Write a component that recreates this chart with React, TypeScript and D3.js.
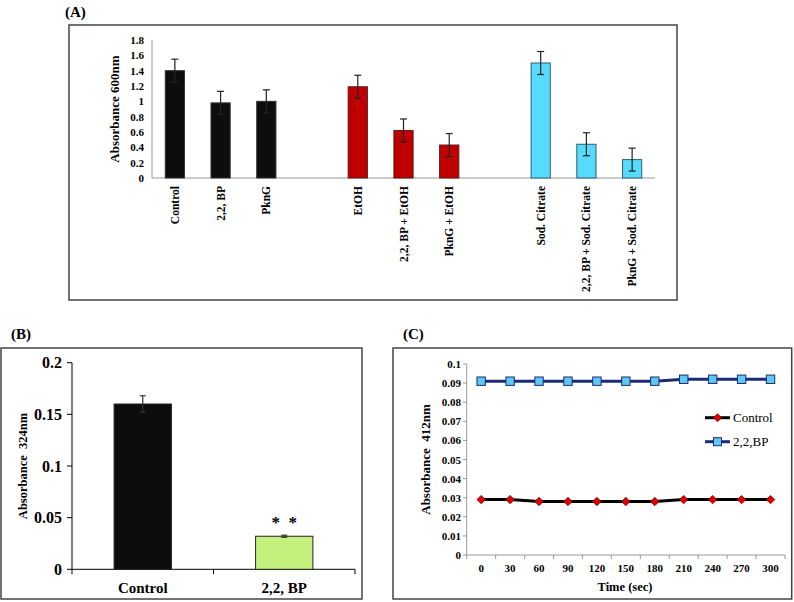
import React from "react";
import * as d3 from "d3";

// ---------- Panel A data ----------
const categoriesA = [
  "Control", "2,2, BP", "PknG",
  "EtOH", "2,2, BP + EtOH", "PknG + EtOH",
  "Sod. Citrate", "2,2, BP + Sod. Citrate", "PknG + Sod. Citrate",
];
const groupsA = [0, 0, 0, 1, 1, 1, 2, 2, 2];
const valuesA = [1.4, 0.98, 1.0, 1.19, 0.62, 0.43, 1.5, 0.44, 0.24];
const errorsA = [0.15, 0.15, 0.15, 0.15, 0.15, 0.15, 0.15, 0.15, 0.15];
const groupColorsA = ["#0d0d0d", "#c00000", "#57dbfd"];
const groupStrokesA = ["#333333", "#5a1a1a", "#2d5f73"];
const yTicksA = [0, 0.2, 0.4, 0.6, 0.8, 1, 1.2, 1.4, 1.6, 1.8];

// ---------- Panel B data ----------
const categoriesB = ["Control", "2,2, BP"];
const valuesB = [0.16, 0.032];
const errorsB = [0.008, 0.001];
const colorsB = ["#0d0d0d", "#c6f07e"];
const yTicksB = [0, 0.05, 0.1, 0.15, 0.2];

// ---------- Panel C data ----------
const timesC = [0, 30, 60, 90, 120, 150, 180, 210, 240, 270, 300];
const controlC = [0.029, 0.029, 0.028, 0.028, 0.028, 0.028, 0.028, 0.029, 0.029, 0.029, 0.029];
const bpC = [0.091, 0.091, 0.091, 0.091, 0.091, 0.091, 0.091, 0.092, 0.092, 0.092, 0.092];
const yTicksC = [0, 0.01, 0.02, 0.03, 0.04, 0.05, 0.06, 0.07, 0.08, 0.09, 0.1];
const seriesNamesC = ["Control", "2,2,BP"];

const FONT = "'Liberation Serif', 'Times New Roman', serif";

function PanelA() {
  // slot keys including two blank gaps between groups
  const slots: string[] = [];
  categoriesA.forEach((c, i) => {
    if (i > 0 && groupsA[i] !== groupsA[i - 1]) slots.push("gap" + i);
    slots.push(c);
  });
  const x = d3.scaleBand<string>().domain(slots).range([152, 655]).padding(0);
  const y = d3.scaleLinear().domain([0, 1.8]).range([178, 40]);
  const bw = x.bandwidth() * 0.42;
  return (
    <g>
      <text x={65} y={17} fontFamily={FONT} fontWeight="bold" fontSize={15}>(A)</text>
      <rect x={69} y={25} width={608} height={275} fill="white" stroke="#444" strokeWidth={1.5} />
      <line x1={152} x2={152} y1={y(1.8)} y2={y(0)} stroke="#999" strokeWidth={1} />
      <line x1={152} x2={655} y1={y(0)} y2={y(0)} stroke="#999" strokeWidth={1} />
      {yTicksA.map((t) => (
        <text key={t} x={144} y={y(t) + 4} textAnchor="end" fontFamily={FONT} fontWeight="bold" fontSize={11}>
          {d3.format("~g")(t)}
        </text>
      ))}
      <text transform={`translate(119,${y(0.9)}) rotate(-90)`} textAnchor="middle" fontFamily={FONT} fontWeight="bold" fontSize={13}>
        Absorbance 600nm
      </text>
      {categoriesA.map((c, i) => {
        const cx = (x(c) as number) + x.bandwidth() / 2;
        const g = groupsA[i];
        return (
          <g key={c}>
            <rect x={cx - bw / 2} y={y(valuesA[i])} width={bw} height={y(0) - y(valuesA[i])}
              fill={groupColorsA[g]} stroke={groupStrokesA[g]} strokeWidth={1} />
            <line x1={cx} x2={cx} y1={y(valuesA[i] + errorsA[i])} y2={y(valuesA[i] - errorsA[i])} stroke="#222" strokeWidth={1.2} />
            <line x1={cx - 3.5} x2={cx + 3.5} y1={y(valuesA[i] + errorsA[i])} y2={y(valuesA[i] + errorsA[i])} stroke="#222" strokeWidth={1.2} />
            <line x1={cx - 3.5} x2={cx + 3.5} y1={y(valuesA[i] - errorsA[i])} y2={y(valuesA[i] - errorsA[i])} stroke="#222" strokeWidth={1.2} />
            <text transform={`translate(${cx + 4},186) rotate(-90)`} textAnchor="end" fontFamily={FONT} fontWeight="bold" fontSize={11.5}>
              {c}
            </text>
          </g>
        );
      })}
    </g>
  );
}

function PanelB() {
  const x = d3.scaleBand<string>().domain(categoriesB).range([72, 355]).padding(0);
  const y = d3.scaleLinear().domain([0, 0.2]).range([569.3, 362.7]);
  const bw = x.bandwidth() * 0.405;
  return (
    <g>
      <text x={11} y={339} fontFamily={FONT} fontWeight="bold" fontSize={15}>(B)</text>
      <rect x={1} y={348} width={361} height={251} fill="white" stroke="#444" strokeWidth={1.5} />
      <line x1={72} x2={72} y1={y(0.2)} y2={y(0)} stroke="#000" strokeWidth={1} />
      <line x1={72} x2={355} y1={y(0)} y2={y(0)} stroke="#000" strokeWidth={1} />
      {yTicksB.map((t) => (
        <g key={t}>
          <line x1={67} x2={72} y1={y(t)} y2={y(t)} stroke="#000" strokeWidth={1} />
          <text x={62} y={y(t) + 5.5} textAnchor="end" fontFamily={FONT} fontWeight="bold" fontSize={16}>
            {d3.format("~g")(t)}
          </text>
        </g>
      ))}
      {[72, 72 + x.bandwidth(), 355].map((tx, i) => (
        <line key={i} x1={tx} x2={tx} y1={y(0)} y2={y(0) + 5} stroke="#000" strokeWidth={1} />
      ))}
      <text transform={`translate(27,${y(0.1)}) rotate(-90)`} textAnchor="middle" fontFamily={FONT} fontWeight="bold" fontSize={12.5} style={{ whiteSpace: "pre" }}>
        {"Absorbance  324nm"}
      </text>
      {categoriesB.map((c, i) => {
        const cx = (x(c) as number) + x.bandwidth() / 2;
        return (
          <g key={c}>
            <rect x={cx - bw / 2} y={y(valuesB[i])} width={bw} height={y(0) - y(valuesB[i])}
              fill={colorsB[i]} stroke="#222" strokeWidth={1} />
            <line x1={cx} x2={cx} y1={y(valuesB[i] + errorsB[i])} y2={y(valuesB[i] - errorsB[i])} stroke="#333" strokeWidth={1.2} />
            <line x1={cx - 3} x2={cx + 3} y1={y(valuesB[i] + errorsB[i])} y2={y(valuesB[i] + errorsB[i])} stroke="#333" strokeWidth={1.2} />
            <line x1={cx - 3} x2={cx + 3} y1={y(valuesB[i] - errorsB[i])} y2={y(valuesB[i] - errorsB[i])} stroke="#333" strokeWidth={1.2} />
            <text x={cx} y={593} textAnchor="middle" fontFamily={FONT} fontWeight="bold" fontSize={15}>{c}</text>
          </g>
        );
      })}
      <text x={(x("2,2, BP") as number) + x.bandwidth() / 2} y={528} textAnchor="middle" fontFamily={FONT} fontWeight="bold" fontSize={17} style={{ whiteSpace: "pre" }}>
        {"*  *"}
      </text>
    </g>
  );
}

function PanelC() {
  const x = d3.scaleBand<number>().domain(timesC).range([466.7, 785]).padding(0);
  const y = d3.scaleLinear().domain([0, 0.1]).range([555, 364]);
  const cx = (t: number) => (x(t) as number) + x.bandwidth() / 2;
  const line = d3.line<number>().x((_, i) => cx(timesC[i])).y((v) => y(v));
  const diamond = (px: number, py: number, r: number) =>
    `M${px},${py - r}L${px + r},${py}L${px},${py + r}L${px - r},${py}Z`;
  const lx1 = 705, lx2 = 730;
  const ly1 = 417.7, ly2 = 441.7;
  return (
    <g>
      <text x={403} y={339} fontFamily={FONT} fontWeight="bold" fontSize={15}>(C)</text>
      <rect x={393} y={348} width={398.7} height={251} fill="white" stroke="#444" strokeWidth={1.5} />
      <line x1={466.7} x2={466.7} y1={y(0.1)} y2={y(0)} stroke="#999" strokeWidth={1} />
      <line x1={466.7} x2={785} y1={y(0)} y2={y(0)} stroke="#999" strokeWidth={1} />
      {yTicksC.map((t) => (
        <g key={t}>
          <line x1={463} x2={466.7} y1={y(t)} y2={y(t)} stroke="#999" strokeWidth={1} />
          <text x={461} y={y(t) + 4} textAnchor="end" fontFamily={FONT} fontWeight="bold" fontSize={11}>
            {d3.format("~g")(t)}
          </text>
        </g>
      ))}
      {timesC.concat([-1]).map((t, i) => {
        const tx = 466.7 + i * x.bandwidth();
        return <line key={i} x1={tx} x2={tx} y1={y(0)} y2={y(0) + 4} stroke="#999" strokeWidth={1} />;
      })}
      {timesC.map((t) => (
        <text key={t} x={cx(t)} y={572} textAnchor="middle" fontFamily={FONT} fontWeight="bold" fontSize={11}>{t}</text>
      ))}
      <text x={625} y={591} textAnchor="middle" fontFamily={FONT} fontWeight="bold" fontSize={12.5}>Time (sec)</text>
      <text transform={`translate(430,${y(0.05)}) rotate(-90)`} textAnchor="middle" fontFamily={FONT} fontWeight="bold" fontSize={13} style={{ whiteSpace: "pre" }}>
        {"Absorbance  412nm"}
      </text>
      <path d={line(bpC) as string} fill="none" stroke="#1c2a78" strokeWidth={3} />
      <path d={line(controlC) as string} fill="none" stroke="#000" strokeWidth={3} />
      {bpC.map((v, i) => (
        <rect key={"b" + i} x={cx(timesC[i]) - 4.2} y={y(v) - 4.2} width={8.4} height={8.4} fill="#5ec8f2" stroke="#1c2a78" strokeWidth={1} />
      ))}
      {controlC.map((v, i) => (
        <path key={"c" + i} d={diamond(cx(timesC[i]), y(v), 4.2)} fill="#e00000" stroke="#7a0000" strokeWidth={0.8} />
      ))}
      {/* legend */}
      <line x1={lx1} x2={lx2} y1={ly1} y2={ly1} stroke="#000" strokeWidth={3} />
      <path d={diamond((lx1 + lx2) / 2, ly1, 4)} fill="#e00000" stroke="#7a0000" strokeWidth={0.8} />
      <text x={733} y={ly1 + 4.5} fontFamily={FONT} fontSize={13}>{seriesNamesC[0]}</text>
      <line x1={lx1} x2={lx2} y1={ly2} y2={ly2} stroke="#1c2a78" strokeWidth={3} />
      <rect x={(lx1 + lx2) / 2 - 4} y={ly2 - 4} width={8} height={8} fill="#5ec8f2" stroke="#1c2a78" strokeWidth={1} />
      <text x={733} y={ly2 + 4.5} fontFamily={FONT} fontSize={13}>{seriesNamesC[1]}</text>
    </g>
  );
}

export default function App() {
  return (
    <svg width={794} height={602} style={{ position: "absolute", left: 0, top: 0, background: "white" }}>
      <rect x={0} y={0} width={794} height={602} fill="white" />
      <PanelA />
      <PanelB />
      <PanelC />
    </svg>
  );
}
